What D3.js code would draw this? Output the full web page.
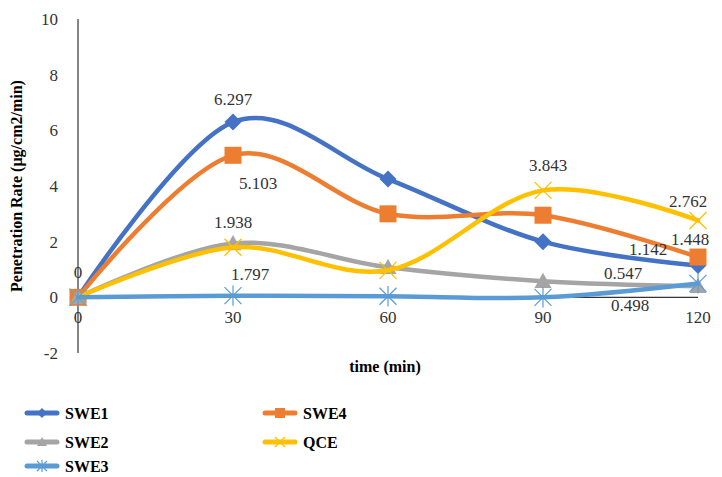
<!DOCTYPE html>
<html><head><meta charset="utf-8">
<script src="https://cdn.jsdelivr.net/npm/d3@7"></script>
<style>body{margin:0;background:#fff}svg{display:block}</style>
</head><body>
<script>
const times = [0, 30, 60, 90, 120];
const yTicks = [-2, 0, 2, 4, 6, 8, 10];
const seriesNames = ["SWE1", "SWE4", "SWE2", "QCE", "SWE3"];
const swe1 = [0, 6.297, 4.25, 2.0, 1.142];
const swe4 = [0, 5.103, 3.0, 2.95, 1.448];
const swe2 = [0, 1.938, 1.08, 0.58, 0.4];
const qce  = [0, 1.797, 0.97, 3.843, 2.762];
const swe3 = [0, 0.06, 0.04, 0.0, 0.5];
const seriesValues = [swe1, swe4, swe2, qce, swe3];
const colors = ["#4472C4", "#ED7D31", "#A5A5A5", "#FFC000", "#5B9BD5"];
const markers = ["diamond", "square", "triangle", "x", "star"];
// data labels: [seriesIndex, pointIndex, text, dx, dy]
const dataLabels = [
  [0, 0, "0", 0, -25],
  [0, 1, "6.297", 0, -23],
  [1, 1, "5.103", 25, 28],
  [2, 1, "1.938", 0, -21],
  [3, 1, "1.797", 17, 27],
  [3, 3, "3.843", 5, -25],
  [3, 4, "2.762", -10, -19],
  [1, 4, "1.448", -8, -18],
  [0, 4, "1.142", -50, -16],
  [2, 4, "0.547", -75, -13],
  [4, 4, "0.498", -68, 22]
];

const FONT = "Liberation Serif";
const W = 722, H = 477;
const svg = d3.select("body").append("svg").attr("width", W).attr("height", H);

const x = d3.scaleLinear().domain([0, 120]).range([78, 698]);
const y = d3.scaleLinear().domain([-2, 10]).range([353, 19]);

svg.append("line").attr("x1", x(0)).attr("x2", x(0)).attr("y1", y(10)).attr("y2", y(-2))
  .attr("stroke", "#333").attr("stroke-width", 1.2);
svg.append("line").attr("x1", x(0)).attr("x2", x(120)).attr("y1", y(0)).attr("y2", y(0))
  .attr("stroke", "#333").attr("stroke-width", 1.2);

svg.append("g").selectAll("text").data(yTicks).join("text")
  .attr("font-family", FONT)
  .attr("x", x(0) - 20).attr("y", d => y(d)).attr("dy", "0.35em")
  .attr("text-anchor", "end").attr("font-size", 17).attr("fill", "#333")
  .text(d => d);

svg.append("g").selectAll("text").data(times).join("text")
  .attr("font-family", FONT)
  .attr("x", d => x(d)).attr("y", y(0) + 20).attr("dy", "0.35em")
  .attr("text-anchor", "middle").attr("font-size", 17).attr("fill", "#333")
  .text(d => d);

svg.append("text").attr("font-family", FONT).attr("transform", `translate(22,${186}) rotate(-90)`)
  .attr("text-anchor", "middle").attr("font-size", 16).attr("font-weight", "bold")
  .text("Penetration Rate (µg/cm2/min)");
svg.append("text").attr("font-family", FONT).attr("x", 385).attr("y", 372).attr("text-anchor", "middle")
  .attr("font-size", 16).attr("font-weight", "bold").text("time (min)");

const line = d3.line().x((d, i) => x(times[i])).y(d => y(d)).curve(d3.curveCardinal.tension(0));

function drawMarker(g, type, cx, cy, color, s) {
  if (type === "diamond") {
    g.append("path").attr("d", `M${cx},${cy-s}L${cx+s},${cy}L${cx},${cy+s}L${cx-s},${cy}Z`).attr("fill", color);
  } else if (type === "square") {
    g.append("rect").attr("x", cx - s).attr("y", cy - s).attr("width", 2*s).attr("height", 2*s).attr("fill", color);
  } else if (type === "triangle") {
    g.append("path").attr("d", `M${cx},${cy-s}L${cx+s},${cy+s*0.8}L${cx-s},${cy+s*0.8}Z`).attr("fill", color);
  } else if (type === "x") {
    g.append("path").attr("d", `M${cx-s},${cy-s}L${cx+s},${cy+s}M${cx-s},${cy+s}L${cx+s},${cy-s}`)
      .attr("stroke", color).attr("stroke-width", 1.3);
  } else if (type === "star") {
    g.append("path").attr("d", `M${cx-s},${cy-s}L${cx+s},${cy+s}M${cx-s},${cy+s}L${cx+s},${cy-s}M${cx},${cy-s*1.2}L${cx},${cy+s*1.2}`)
      .attr("stroke", color).attr("stroke-width", 1.2);
  }
}

seriesValues.forEach((vals, si) => {
  const g = svg.append("g");
  g.append("path").datum(vals).attr("d", line).attr("fill", "none")
    .attr("stroke", colors[si]).attr("stroke-width", 4.5).attr("stroke-linecap", "round");
  vals.forEach((v, i) => drawMarker(g, markers[si], x(times[i]), y(v), colors[si], 8.5));
});

svg.append("g").selectAll("text").data(dataLabels).join("text")
  .attr("font-family", FONT)
  .attr("x", d => x(times[d[1]]) + d[3])
  .attr("y", d => y(seriesValues[d[0]][d[1]]) + d[4]).attr("dy", "0.35em")
  .attr("text-anchor", "middle").attr("font-size", 17).attr("fill", "#333")
  .text(d => d[2]);

const legendPos = [[27, 413], [265, 413], [27, 442], [265, 442], [27, 466]];
seriesNames.forEach((name, si) => {
  const [lx, ly] = legendPos[si];
  const g = svg.append("g");
  g.append("line").attr("x1", lx).attr("x2", lx + 30).attr("y1", ly).attr("y2", ly)
    .attr("stroke", colors[si]).attr("stroke-width", 5).attr("stroke-linecap", "round");
  drawMarker(g, markers[si], lx + 15, ly, colors[si], 5);
  g.append("text").attr("font-family", FONT).attr("x", lx + 38).attr("y", ly).attr("dy", "0.35em")
    .attr("font-size", 16).attr("font-weight", "bold").text(name);
});
</script>
</body></html>
